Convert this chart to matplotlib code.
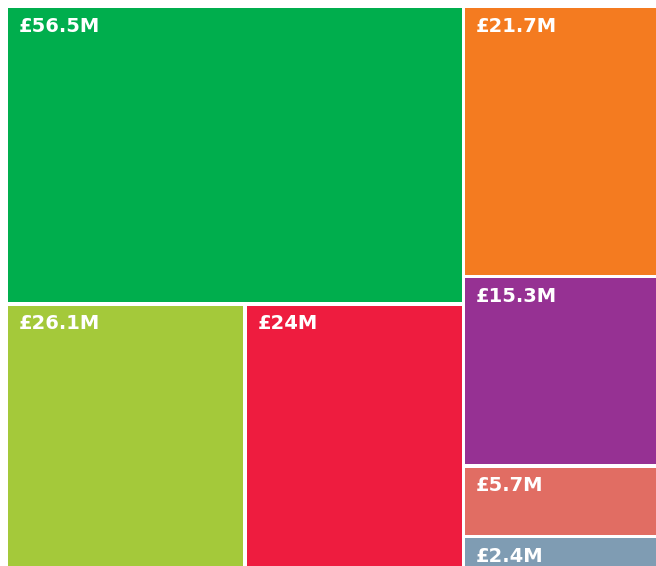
import matplotlib.pyplot as plt
from matplotlib.patches import Rectangle

# values in £M and colours, in drawing order
labels = ["£56.5M", "£26.1M", "£24M", "£21.7M", "£15.3M", "£5.7M", "£2.4M"]
values = [56.5, 26.1, 24.0, 21.7, 15.3, 5.7, 2.4]
colors = ["#00AE4D", "#A4C93A", "#EE1C3F", "#F47B20", "#963193", "#E16D63", "#7F9CB3"]

# left block: big one on top, two side by side below; right block: stacked
left_idx = [0, 1, 2]
right_idx = [3, 4, 5, 6]

W, H = 656, 566
x0, y0 = 8, 8
gap = 3.5

fig = plt.figure(figsize=(W / 100, H / 100), dpi=100)
ax = fig.add_axes([0, 0, 1, 1])
ax.set_xlim(0, W)
ax.set_ylim(H, 0)
ax.axis("off")

rects = {}
total = sum(values)
left_sum = sum(values[i] for i in left_idx)
right_sum = sum(values[i] for i in right_idx)
lw = (W - x0) * left_sum / total
hh = H - y0

# left column
top_h = hh * values[0] / left_sum
rects[0] = (x0, y0, lw, top_h)
bottom_sum = values[1] + values[2]
w1 = lw * values[1] / bottom_sum
rects[1] = (x0, y0 + top_h, w1, hh - top_h)
rects[2] = (x0 + w1, y0 + top_h, lw - w1, hh - top_h)

# right column
yy = y0
for i in right_idx:
    h = hh * values[i] / right_sum
    rects[i] = (x0 + lw, yy, W - x0 - lw, h)
    yy += h

half = gap / 2
for i, (x, y, w, h) in rects.items():
    # split the white gap between neighbours, keep outer edges flush
    x1, y1 = x + w, y + h
    if x > x0 + 1:
        x += half
    if y > y0 + 1:
        y += half
    if x1 < W - 1:
        x1 -= half
    if y1 < H - 1:
        y1 -= half
    ax.add_patch(Rectangle((x, y), x1 - x, y1 - y, facecolor=colors[i], edgecolor="none"))
    ax.text(x + 11, y + 8.5, labels[i], color="white", fontsize=14, fontweight="bold",
            family="DejaVu Sans", ha="left", va="top")

fig.savefig("out.png", dpi=100, facecolor="white")
